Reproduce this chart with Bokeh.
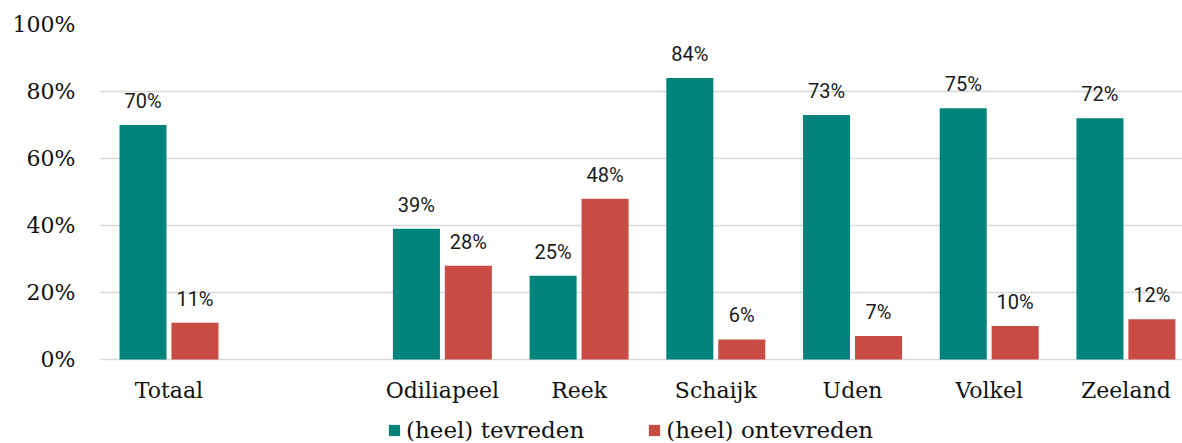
from bokeh.plotting import figure
from bokeh.models import (ColumnDataSource, Range1d, FixedTicker, PrintfTickFormatter,
                          LabelSet, Legend, LegendItem)
from bokeh.core.properties import value
from bokeh.embed import file_html
from bokeh.resources import INLINE

# ---- data ----
categories = ["Totaal", "", "Odiliapeel", "Reek", "Schaijk", "Uden", "Volkel", "Zeeland"]
tevreden = [70, None, 39, 25, 84, 73, 75, 72]
ontevreden = [11, None, 28, 48, 6, 7, 10, 12]
series_names = ["(heel) tevreden", "(heel) ontevreden"]
y_ticks = [0, 20, 40, 60, 80, 100]

TEAL = "#00837b"
RED = "#c84c44"
SERIF = "DejaVu Serif"
SANS = "Roboto"
OFFSET = 0.19
BAR_W = 0.344

idx = [i for i, c in enumerate(categories) if c]
src = ColumnDataSource(dict(
    x1=[i - OFFSET for i in idx],
    x2=[i + OFFSET for i in idx],
    t=[tevreden[i] for i in idx],
    o=[ontevreden[i] for i in idx],
    tl=[f"{tevreden[i]}%" for i in idx],
    ol=[f"{ontevreden[i]}%" for i in idx],
))
cat_src = ColumnDataSource(dict(x=idx, y=[0] * len(idx), name=[categories[i] for i in idx]))

# frame spans the full height; the strip below 0 holds category labels and legend
p = figure(width=1182, height=443, output_backend="svg", toolbar_location=None,
           x_range=Range1d(-0.501, 7.414), y_range=Range1d(-25.07, 100),
           min_border_left=100, min_border_right=0, min_border_top=24, min_border_bottom=0)
p.outline_line_color = None
p.background_fill_color = "white"
p.border_fill_color = "white"

r1 = p.vbar(x="x1", top="t", bottom=0, width=BAR_W, source=src, fill_color=TEAL, line_color=None)
r2 = p.vbar(x="x2", top="o", bottom=0, width=BAR_W, source=src, fill_color=RED, line_color=None)

for xf, yf, tf in (("x1", "t", "tl"), ("x2", "o", "ol")):
    p.add_layout(LabelSet(x=xf, y=yf, text=tf, source=src, y_offset=24,
                          text_align="center", text_baseline="middle",
                          text_font=value(SANS), text_font_size="20px", text_color="#1a1a1a"))

# category labels (x axis)
p.add_layout(LabelSet(x="x", y="y", text="name", source=cat_src, y_offset=-31,
                      text_align="center", text_baseline="middle",
                      text_font=value(SERIF), text_font_size="22px", text_color="#111111"))
p.xaxis.visible = False

p.yaxis.ticker = FixedTicker(ticks=y_ticks)
p.yaxis.formatter = PrintfTickFormatter(format="%d%%")
p.yaxis.axis_line_color = None
p.yaxis.major_tick_line_color = None
p.yaxis.minor_tick_line_color = None
p.yaxis.major_tick_out = 0
p.yaxis.major_label_standoff = 25
p.yaxis.major_label_text_font = SERIF
p.yaxis.major_label_text_font_size = "22px"
p.yaxis.major_label_text_color = "#111111"

p.xgrid.visible = False
p.ygrid.grid_line_color = "#d9d9d9"
p.ygrid.grid_line_width = 1.5

legend = Legend(items=[LegendItem(label=series_names[0], renderers=[r1]),
                       LegendItem(label=series_names[1], renderers=[r2])],
                location=(287, 0), orientation="horizontal",
                glyph_width=14, glyph_height=14, label_standoff=5, spacing=63,
                padding=0, margin=0, border_line_color=None, background_fill_alpha=0,
                label_text_font=SERIF, label_text_font_size="23px", label_text_color="#111111")
p.add_layout(legend, "center")

open("out.html", "w").write(file_html(p, INLINE))
